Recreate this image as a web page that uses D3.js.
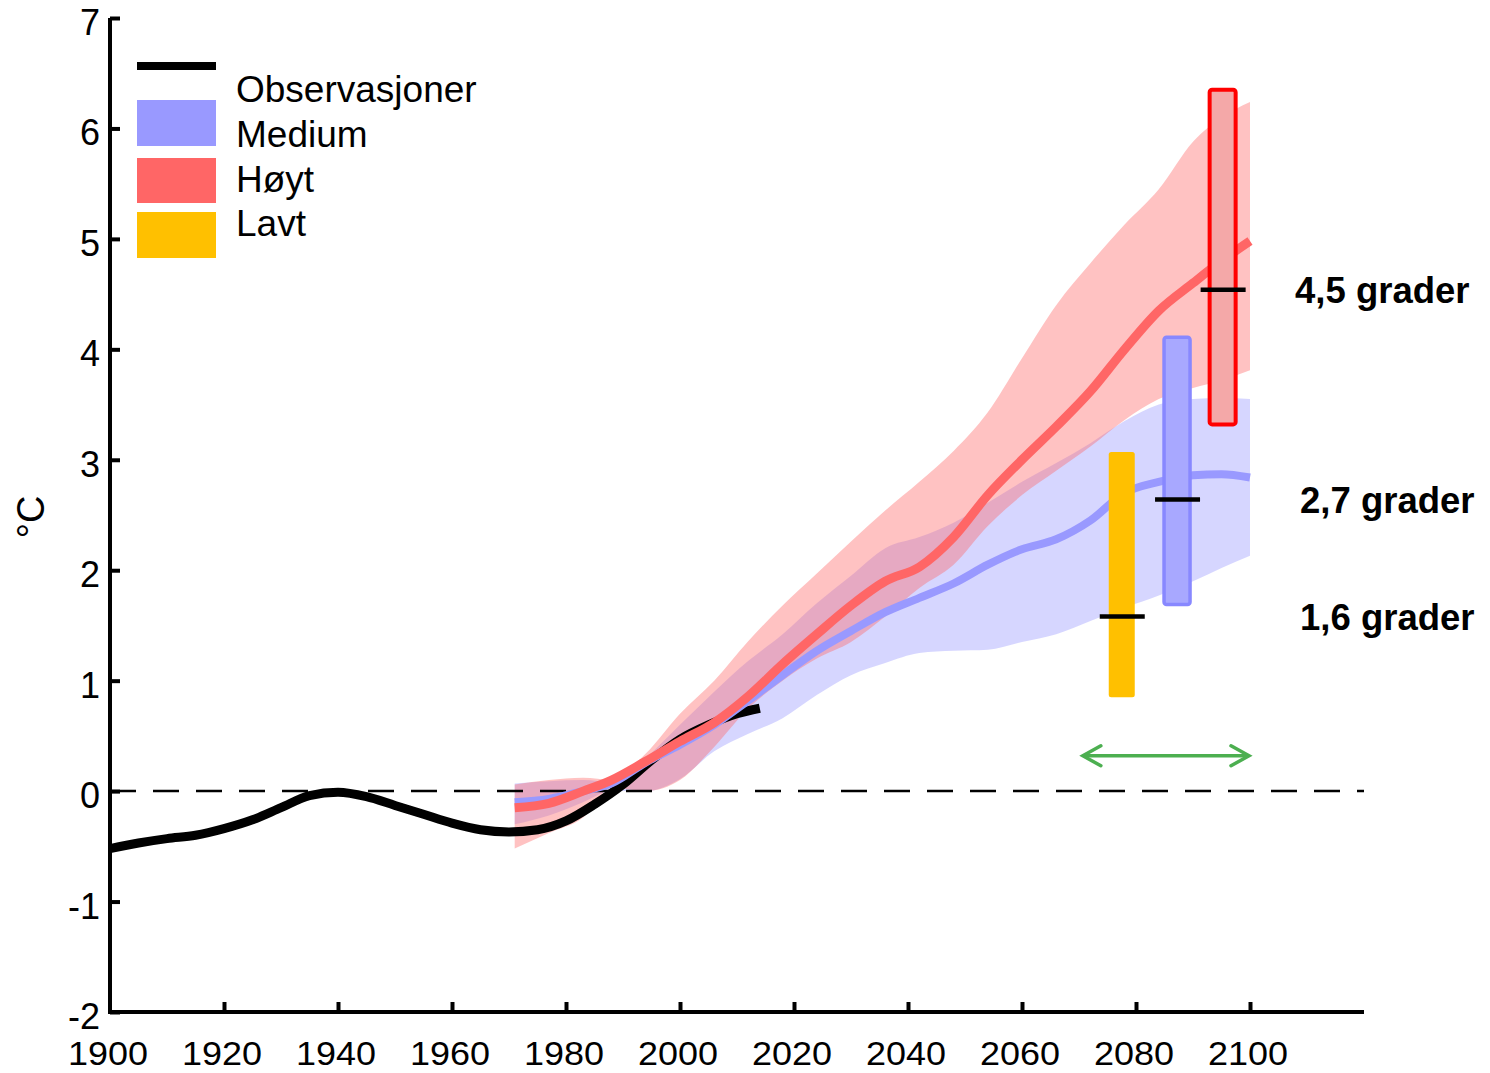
<!DOCTYPE html>
<html>
<head>
<meta charset="utf-8">
<script src="https://cdn.jsdelivr.net/npm/d3@7"></script>
<style>
  html, body { margin: 0; padding: 0; background: #fff; }
  svg { display: block; }
  text { font-family: "Liberation Sans", Arial, sans-serif; }
</style>
</head>
<body>
<svg id="chart" width="1490" height="1073"></svg>
<script>
// ---------------- DATA ----------------
const xTicks = [1900, 1920, 1940, 1960, 1980, 2000, 2020, 2040, 2060, 2080, 2100];
const yTicks = [-2, -1, 0, 1, 2, 3, 4, 5, 6, 7];

const obsYears  = [1900, 1905, 1910, 1915, 1920, 1925, 1930, 1935, 1940, 1945, 1950, 1955, 1960, 1965, 1970, 1975, 1980, 1985, 1990, 1995, 2000, 2005, 2010, 2014];
const obsValues = [-0.52, -0.47, -0.43, -0.40, -0.34, -0.26, -0.15, -0.04, -0.01, -0.05, -0.13, -0.21, -0.29, -0.35, -0.37, -0.35, -0.27, -0.12, 0.06, 0.28, 0.47, 0.60, 0.70, 0.75];

const projYears  = [1971, 1977, 1983, 1988, 1994, 2000, 2006, 2012, 2018, 2024, 2030, 2036, 2042, 2048, 2054, 2060, 2066, 2072, 2078, 2084, 2090, 2095, 2100];
const highMedian = [-0.15, -0.11, 0.00, 0.10, 0.27, 0.45, 0.62, 0.86, 1.15, 1.42, 1.68, 1.90, 2.03, 2.30, 2.68, 3.00, 3.30, 3.62, 4.00, 4.35, 4.60, 4.80, 4.98];
const highUpper  = [0.06, 0.10, 0.12, 0.10, 0.34, 0.70, 1.00, 1.36, 1.68, 1.97, 2.26, 2.54, 2.80, 3.08, 3.43, 3.92, 4.40, 4.78, 5.13, 5.45, 5.88, 6.10, 6.24];
const highLower  = [-0.52, -0.38, -0.24, 0.03, 0.00, 0.10, 0.40, 0.75, 1.00, 1.20, 1.35, 1.58, 1.84, 2.05, 2.40, 2.68, 2.90, 3.12, 3.36, 3.55, 3.65, 3.72, 3.81];
const medMedian  = [-0.10, -0.07, 0.00, 0.07, 0.26, 0.42, 0.60, 0.82, 1.05, 1.27, 1.45, 1.62, 1.75, 1.88, 2.05, 2.19, 2.28, 2.45, 2.70, 2.80, 2.86, 2.87, 2.84];
const medUpper   = [0.07, 0.09, 0.10, 0.08, 0.30, 0.60, 0.90, 1.18, 1.42, 1.70, 1.95, 2.20, 2.30, 2.43, 2.61, 2.80, 2.97, 3.15, 3.35, 3.50, 3.55, 3.56, 3.55];
const medLower   = [-0.30, -0.22, -0.10, 0.00, 0.00, 0.11, 0.36, 0.52, 0.66, 0.87, 1.05, 1.16, 1.25, 1.27, 1.28, 1.35, 1.42, 1.54, 1.66, 1.77, 1.90, 2.02, 2.13];

// 2081-2100 ranges per scenario
const barNames  = ["Lavt", "Medium", "Høyt"];
const barYears  = [2077.5, 2087.2, 2095.2];
const barLow    = [0.85, 1.69, 3.32];
const barHigh   = [3.07, 4.11, 6.35];
const barMid    = [1.58, 2.64, 4.54];
const barLabels = ["1,6 grader", "2,7 grader", "4,5 grader"];

const arrowYears = [2070.5, 2100];
const arrowValue = 0.32;

const legendNames = ["Observasjoner", "Medium", "Høyt", "Lavt"];

// ---------------- STYLE ----------------
const colRed = "#FF6666", colBlue = "#9999FF", colYellow = "#FFC000";

const svg = d3.select("#chart");
const x = d3.scaleLinear().domain([1900, 2120]).range([110, 1364]);
const y = d3.scaleLinear().domain([-2, 7]).range([1012, 18]);

// ---------------- BANDS ----------------
const proj = projYears.map((yr, i) => ({
  yr, hm: highMedian[i], hu: highUpper[i], hl: highLower[i],
  mm: medMedian[i], mu: medUpper[i], ml: medLower[i]
}));
const curve = d3.curveMonotoneX;

svg.append("path").datum(proj)
  .attr("d", d3.area().curve(curve).x(d => x(d.yr)).y0(d => y(d.ml)).y1(d => y(d.mu)))
  .attr("fill", colBlue).attr("fill-opacity", 0.4);
svg.append("path").datum(proj)
  .attr("d", d3.area().curve(curve).x(d => x(d.yr)).y0(d => y(d.hl)).y1(d => y(d.hu)))
  .attr("fill", colRed).attr("fill-opacity", 0.4);

// zero dashed line
svg.append("line")
  .attr("x1", x(1900)).attr("x2", x(2120))
  .attr("y1", y(0)).attr("y2", y(0))
  .attr("stroke", "#000").attr("stroke-width", 2.5)
  .attr("stroke-dasharray", "26,17");

// observations
const obs = obsYears.map((yr, i) => ({ yr, v: obsValues[i] }));
svg.append("path").datum(obs)
  .attr("d", d3.line().curve(curve).x(d => x(d.yr)).y(d => y(d.v)))
  .attr("fill", "none").attr("stroke", "#000").attr("stroke-width", 9);

// medians
svg.append("path").datum(proj)
  .attr("d", d3.line().curve(curve).x(d => x(d.yr)).y(d => y(d.mm)))
  .attr("fill", "none").attr("stroke", colBlue).attr("stroke-width", 8);
svg.append("path").datum(proj)
  .attr("d", d3.line().curve(curve).x(d => x(d.yr)).y(d => y(d.hm)))
  .attr("fill", "none").attr("stroke", colRed).attr("stroke-width", 9);

// ---------------- BARS ----------------
const barW = 26;
const barFill   = [colYellow, "#A8A8FF", "#F4A8A8"];
const barStroke = ["none", "#8888FF", "#FF0000"];
const barSW     = [0, 3.5, 4];
barNames.forEach((n, i) => {
  svg.append("rect")
    .attr("x", x(barYears[i]) - barW / 2)
    .attr("y", y(barHigh[i]))
    .attr("width", barW)
    .attr("height", y(barLow[i]) - y(barHigh[i]))
    .attr("rx", 2.5)
    .attr("fill", barFill[i]).attr("stroke", barStroke[i]).attr("stroke-width", barSW[i]);
  svg.append("line")
    .attr("x1", x(barYears[i]) - 22).attr("x2", x(barYears[i]) + 23)
    .attr("y1", y(barMid[i])).attr("y2", y(barMid[i]))
    .attr("stroke", "#000").attr("stroke-width", 4.5);
  svg.append("text")
    .attr("x", i === 2 ? 1295 : 1300)
    .attr("y", y(barMid[i]))
    .attr("dy", "0.36em")
    .attr("font-size", 36.5).attr("font-weight", "bold")
    .text(barLabels[i]);
});

// ---------------- ARROW ----------------
const ax1 = x(arrowYears[0]), ax2 = x(arrowYears[1]), ay = y(arrowValue);
const green = "#4CAF50";
svg.append("line").attr("x1", ax1 + 2).attr("x2", ax2 - 2).attr("y1", ay).attr("y2", ay)
  .attr("stroke", green).attr("stroke-width", 3.5);
svg.append("path")
  .attr("d", `M${ax1 + 19},${ay - 10} L${ax1 + 1},${ay} L${ax1 + 19},${ay + 10}`)
  .attr("fill", "none").attr("stroke", green).attr("stroke-width", 3.5).attr("stroke-linecap", "round");
svg.append("path")
  .attr("d", `M${ax2 - 19},${ay - 10} L${ax2 - 1},${ay} L${ax2 - 19},${ay + 10}`)
  .attr("fill", "none").attr("stroke", green).attr("stroke-width", 3.5).attr("stroke-linecap", "round");

// ---------------- AXES ----------------
const yAxis = d3.axisRight(y).tickValues(yTicks).tickSize(10).tickFormat("");
const gy = svg.append("g").attr("transform", `translate(${x(1900)},0)`).call(yAxis);
gy.select(".domain").attr("stroke-width", 4).attr("d", `M0,${y(7)}V${y(-2)}`);
gy.selectAll(".tick line").attr("stroke-width", 4);

const xAxis = d3.axisTop(x).tickValues(xTicks).tickSize(10).tickFormat("");
const gx = svg.append("g").attr("transform", `translate(0,${y(-2)})`).call(xAxis);
gx.select(".domain").attr("stroke-width", 4).attr("d", `M${x(1900) - 2},0H${x(2120)}`);
gx.selectAll(".tick line").attr("stroke-width", 4);
gx.selectAll(".tick").filter(d => d === 1900).select("line").remove();

// tick labels
svg.selectAll(".ylab").data(yTicks).enter().append("text")
  .attr("x", 100).attr("y", d => y(d) + 4).attr("dy", "0.36em")
  .attr("text-anchor", "end").attr("font-size", 36)
  .text(d => d);
svg.selectAll(".xlab").data(xTicks).enter().append("text")
  .attr("x", d => x(d) - 2).attr("y", 1065)
  .attr("text-anchor", "middle").attr("font-size", 34)
  .attr("textLength", 80).attr("lengthAdjust", "spacingAndGlyphs")
  .text(d => d);

// y label
svg.append("text")
  .attr("transform", `translate(44,${517}) rotate(-90)`)
  .attr("text-anchor", "middle").attr("font-size", 38)
  .text("°C");

// ---------------- LEGEND ----------------
svg.append("line").attr("x1", 137).attr("x2", 216).attr("y1", 66).attr("y2", 66)
  .attr("stroke", "#000").attr("stroke-width", 8);
const legRects = [[100, 146, colBlue], [158, 203, colRed], [212, 258, colYellow]];
legRects.forEach(r => {
  svg.append("rect").attr("x", 137).attr("y", r[0]).attr("width", 79).attr("height", r[1] - r[0]).attr("fill", r[2]);
});
const legBase = [102, 147, 192, 236];
legendNames.forEach((n, i) => {
  svg.append("text").attr("x", 236).attr("y", legBase[i]).attr("font-size", 37).text(n);
});
</script>
</body>
</html>
